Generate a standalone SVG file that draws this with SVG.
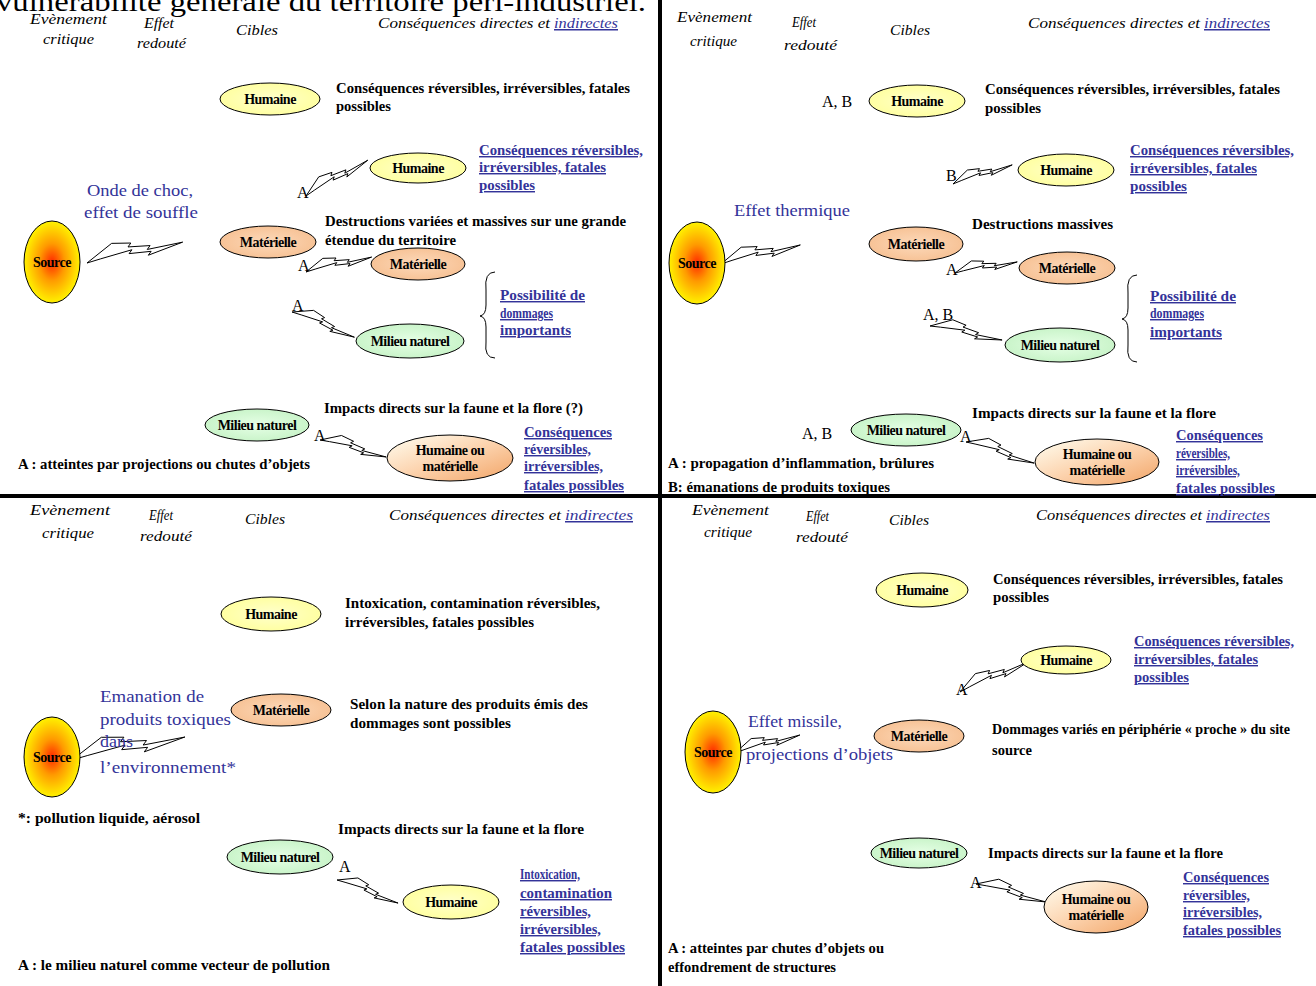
<svg xmlns="http://www.w3.org/2000/svg" xmlns:xlink="http://www.w3.org/1999/xlink" width="1316" height="986" viewBox="0 0 1316 986">
<style>
text{font-family:"Liberation Serif","Times New Roman",serif}
.t{font-size:28px;fill:#000}
.h{font-style:italic;font-size:15px;fill:#000}
.hl{font-style:italic;font-size:15px;fill:#333399;text-decoration:underline}
.b{font-weight:bold;font-size:14.5px;fill:#000}
.l{font-weight:bold;font-size:14.5px;fill:#333399;text-decoration:underline}
.e{font-size:16px;fill:#333399}
.a{font-size:16px;fill:#000}
.n{font-weight:bold;font-size:14px;letter-spacing:-0.5px;fill:#000;text-anchor:middle}
.el{stroke:#000;stroke-width:1}
.hum{fill:url(#gHum)}
.mat{fill:url(#gMat)}
.mil{fill:url(#gMil)}
.hm{fill:url(#gHM)}
.src{fill:url(#gSrc)}
.bolt{fill:#fff;stroke:#000;stroke-width:1}
.brace{fill:none;stroke:#000;stroke-width:1}
.sep{stroke:#000;stroke-width:4}
</style>
<defs>
<radialGradient id="gSrc" cx="0.5" cy="0.5" r="0.5">
<stop offset="0" stop-color="#FF2A00"/>
<stop offset="0.45" stop-color="#FF9A00"/>
<stop offset="1" stop-color="#FFF200"/>
</radialGradient>
<radialGradient id="gHum" cx="0.5" cy="0.5" r="0.6">
<stop offset="0" stop-color="#FFFFCC"/>
<stop offset="1" stop-color="#FFFF99"/>
</radialGradient>
<radialGradient id="gMat" cx="0.5" cy="0.5" r="0.6">
<stop offset="0" stop-color="#FCD9BA"/>
<stop offset="1" stop-color="#F6BE8F"/>
</radialGradient>
<radialGradient id="gMil" cx="0.5" cy="0.5" r="0.6">
<stop offset="0" stop-color="#E6FFE6"/>
<stop offset="1" stop-color="#C4F2C4"/>
</radialGradient>
<linearGradient id="gHM" x1="0" y1="0" x2="1" y2="1">
<stop offset="0" stop-color="#FFFFF2"/>
<stop offset="0.5" stop-color="#FCD3AE"/>
<stop offset="1" stop-color="#F2A466"/>
</linearGradient>
<path id="bolt" class="bolt" vector-effect="non-scaling-stroke" d="M0,0 L26,-20 L46,-20 L43,-16 L66,-17 L63,-13 L100,-20 L64,-7 L67,-11 L44,-9 L47,-13 L14,-4 Z"/>
</defs>

<rect width="1316" height="986" fill="#fff"/>

<text class="t" x="-4" y="11" textLength="650" lengthAdjust="spacingAndGlyphs">vulnérabilité générale du territoire péri-industriel.</text>

<g id="separators">
<line class="sep" x1="660" y1="0" x2="660" y2="986"/>
<line class="sep" x1="0" y1="496" x2="1316" y2="496"/>
</g>

<g id="connectors">
<use xlink:href="#bolt" transform="translate(87,263) rotate(-1) scale(0.96)"/>
<use xlink:href="#bolt" transform="translate(306,196) rotate(-18.8) scale(0.70)"/>
<use xlink:href="#bolt" transform="translate(306,272) rotate(-1.5) scale(0.66)"/>
<use xlink:href="#bolt" transform="translate(292,312) rotate(33.3) scale(0.66)"/>
<use xlink:href="#bolt" transform="translate(320,440) rotate(25.7) scale(0.67)"/>
<use xlink:href="#bolt" transform="translate(721,264) rotate(-2.2) scale(0.80)"/>
<use xlink:href="#bolt" transform="translate(953,184) rotate(-6.6) scale(0.61)"/>
<use xlink:href="#bolt" transform="translate(955,273) rotate(1.2) scale(0.62)"/>
<use xlink:href="#bolt" transform="translate(930,326) rotate(22.3) scale(0.72)"/>
<use xlink:href="#bolt" transform="translate(966,442) rotate(28.5) scale(0.70)"/>
<use xlink:href="#bolt" transform="translate(72,760) rotate(-0.2) scale(1.13)"/>
<use xlink:href="#bolt" transform="translate(337,880) rotate(32) scale(0.64)"/>
<use xlink:href="#bolt" transform="translate(960,692) rotate(-12.5) scale(0.73)"/>
<use xlink:href="#bolt" transform="translate(735,753) rotate(-4.2) scale(0.66)"/>
<use xlink:href="#bolt" transform="translate(976,884) rotate(25.7) scale(0.71)"/>
<path class="brace" d="M495,272 Q484,272 486,290 L486,305 Q486,315 480,316 Q486,317 486,327 L486,342 Q484,358 495,358"/>
<path class="brace" d="M1137,275 Q1126,275 1128,293 L1128,308 Q1128,318 1122,319 Q1128,320 1128,330 L1128,345 Q1126,362 1137,362"/>
</g>

<!-- ============ Q1 ============ -->
<g id="q1-headers">
<text class="h" x="30" y="24" textLength="77" lengthAdjust="spacingAndGlyphs">Evènement</text>
<text class="h" x="43" y="44" textLength="51" lengthAdjust="spacingAndGlyphs">critique</text>
<text class="h" x="144" y="28" textLength="30" lengthAdjust="spacingAndGlyphs">Effet</text>
<text class="h" x="137" y="48" textLength="49" lengthAdjust="spacingAndGlyphs">redouté</text>
<text class="h" x="236" y="35" textLength="42" lengthAdjust="spacingAndGlyphs">Cibles</text>
<text class="h" x="378" y="28" textLength="172" lengthAdjust="spacingAndGlyphs">Conséquences directes et</text>
<text class="hl" x="554" y="28" textLength="64" lengthAdjust="spacingAndGlyphs">indirectes</text>
</g>
<g id="q1-source"><ellipse class="el src" cx="52" cy="262" rx="28" ry="41"/><text class="n" x="52" y="267">Source</text></g>
<g id="q1-effet"><text class="e" x="87" y="196" textLength="106" lengthAdjust="spacingAndGlyphs">Onde de choc,</text><text class="e" x="84" y="218" textLength="114" lengthAdjust="spacingAndGlyphs">effet de souffle</text></g>
<g id="q1-humaine"><ellipse class="el hum" cx="270" cy="99" rx="50" ry="16"/><text class="n" x="270" y="104">Humaine</text></g>
<g id="q1-humaine-txt"><text class="b" x="336" y="93" textLength="294" lengthAdjust="spacingAndGlyphs">Conséquences réversibles, irréversibles, fatales</text><text class="b" x="336" y="111" textLength="55" lengthAdjust="spacingAndGlyphs">possibles</text></g>
<g id="q1-humaine2"><ellipse class="el hum" cx="418" cy="168" rx="48" ry="15"/><text class="n" x="418" y="173">Humaine</text></g>
<g id="q1-humaine2-txt"><text class="l" x="479" y="155" textLength="164" lengthAdjust="spacingAndGlyphs">Conséquences réversibles,</text><text class="l" x="479" y="172" textLength="127" lengthAdjust="spacingAndGlyphs">irréversibles, fatales</text><text class="l" x="479" y="190" textLength="56" lengthAdjust="spacingAndGlyphs">possibles</text></g>
<text class="a" x="297" y="198">A</text>
<g id="q1-materielle"><ellipse class="el mat" cx="268" cy="242" rx="48" ry="16"/><text class="n" x="268" y="247">Matérielle</text></g>
<g id="q1-materielle-txt"><text class="b" x="325" y="226" textLength="301" lengthAdjust="spacingAndGlyphs">Destructions variées et massives sur une grande</text><text class="b" x="325" y="245" textLength="131" lengthAdjust="spacingAndGlyphs">étendue du territoire</text></g>
<text class="a" x="298" y="271">A</text>
<g id="q1-materielle2"><ellipse class="el mat" cx="418" cy="264" rx="47" ry="16"/><text class="n" x="418" y="269">Matérielle</text></g>
<text class="a" x="292" y="311">A</text>
<g id="q1-milieu"><ellipse class="el mil" cx="410" cy="341" rx="54" ry="17"/><text class="n" x="410" y="346">Milieu naturel</text></g>
<g id="q1-brace-txt"><text class="l" x="500" y="300" textLength="85" lengthAdjust="spacingAndGlyphs">Possibilité de</text><text class="l" x="500" y="318" textLength="53" lengthAdjust="spacingAndGlyphs">dommages</text><text class="l" x="500" y="335" textLength="71" lengthAdjust="spacingAndGlyphs">importants</text></g>
<text class="b" x="324" y="413" textLength="259" lengthAdjust="spacingAndGlyphs">Impacts directs sur la faune et la flore (?)</text>
<g id="q1-milieu2"><ellipse class="el mil" cx="257" cy="425" rx="52" ry="16"/><text class="n" x="257" y="430">Milieu naturel</text></g>
<text class="a" x="314" y="441">A</text>
<g id="q1-hm"><ellipse class="el hm" cx="450" cy="458" rx="63" ry="23"/><text class="n" x="450" y="455">Humaine ou</text><text class="n" x="450" y="471">matérielle</text></g>
<g id="q1-hm-txt"><text class="l" x="524" y="437" textLength="88" lengthAdjust="spacingAndGlyphs">Conséquences</text><text class="l" x="524" y="454" textLength="67" lengthAdjust="spacingAndGlyphs">réversibles,</text><text class="l" x="524" y="471" textLength="79" lengthAdjust="spacingAndGlyphs">irréversibles,</text><text class="l" x="524" y="490" textLength="100" lengthAdjust="spacingAndGlyphs">fatales possibles</text></g>
<text class="b" x="18" y="469" textLength="292" lengthAdjust="spacingAndGlyphs">A : atteintes par projections ou chutes d’objets</text>

<!-- ============ Q2 ============ -->
<g id="q2-headers">
<text class="h" x="677" y="22" textLength="75" lengthAdjust="spacingAndGlyphs">Evènement</text>
<text class="h" x="690" y="46" textLength="47" lengthAdjust="spacingAndGlyphs">critique</text>
<text class="h" x="792" y="27" textLength="24" lengthAdjust="spacingAndGlyphs">Effet</text>
<text class="h" x="784" y="50" textLength="53" lengthAdjust="spacingAndGlyphs">redouté</text>
<text class="h" x="890" y="35" textLength="40" lengthAdjust="spacingAndGlyphs">Cibles</text>
<text class="h" x="1028" y="28" textLength="172" lengthAdjust="spacingAndGlyphs">Conséquences directes et</text>
<text class="hl" x="1204" y="28" textLength="66" lengthAdjust="spacingAndGlyphs">indirectes</text>
</g>
<text class="a" x="822" y="107">A, B</text>
<g id="q2-humaine"><ellipse class="el hum" cx="917" cy="101" rx="48" ry="16"/><text class="n" x="917" y="106">Humaine</text></g>
<g id="q2-humaine-txt"><text class="b" x="985" y="94" textLength="295" lengthAdjust="spacingAndGlyphs">Conséquences réversibles, irréversibles, fatales</text><text class="b" x="985" y="113" textLength="56" lengthAdjust="spacingAndGlyphs">possibles</text></g>
<text class="a" x="946" y="181">B</text>
<g id="q2-humaine2"><ellipse class="el hum" cx="1066" cy="170" rx="48" ry="16"/><text class="n" x="1066" y="175">Humaine</text></g>
<g id="q2-humaine2-txt"><text class="l" x="1130" y="155" textLength="164" lengthAdjust="spacingAndGlyphs">Conséquences réversibles,</text><text class="l" x="1130" y="173" textLength="127" lengthAdjust="spacingAndGlyphs">irréversibles, fatales</text><text class="l" x="1130" y="191" textLength="57" lengthAdjust="spacingAndGlyphs">possibles</text></g>
<text class="e" x="734" y="216" textLength="116" lengthAdjust="spacingAndGlyphs">Effet thermique</text>
<g id="q2-source"><ellipse class="el src" cx="697" cy="263" rx="28" ry="41"/><text class="n" x="697" y="268">Source</text></g>
<text class="b" x="972" y="229" textLength="141" lengthAdjust="spacingAndGlyphs">Destructions massives</text>
<g id="q2-materielle"><ellipse class="el mat" cx="916" cy="244" rx="47" ry="17"/><text class="n" x="916" y="249">Matérielle</text></g>
<text class="a" x="946" y="275">A</text>
<g id="q2-materielle2"><ellipse class="el mat" cx="1067" cy="268" rx="48" ry="16"/><text class="n" x="1067" y="273">Matérielle</text></g>
<text class="a" x="923" y="320">A, B</text>
<g id="q2-milieu"><ellipse class="el mil" cx="1060" cy="345" rx="55" ry="17"/><text class="n" x="1060" y="350">Milieu naturel</text></g>
<g id="q2-brace-txt"><text class="l" x="1150" y="301" textLength="86" lengthAdjust="spacingAndGlyphs">Possibilité de</text><text class="l" x="1150" y="318" textLength="54" lengthAdjust="spacingAndGlyphs">dommages</text><text class="l" x="1150" y="337" textLength="72" lengthAdjust="spacingAndGlyphs">importants</text></g>
<text class="b" x="972" y="418" textLength="244" lengthAdjust="spacingAndGlyphs">Impacts directs sur la faune et la flore</text>
<text class="a" x="802" y="439">A, B</text>
<g id="q2-milieu2"><ellipse class="el mil" cx="906" cy="430" rx="55" ry="16"/><text class="n" x="906" y="435">Milieu naturel</text></g>
<text class="a" x="960" y="442">A</text>
<g id="q2-hm"><ellipse class="el hm" cx="1097" cy="462" rx="62" ry="23"/><text class="n" x="1097" y="459">Humaine ou</text><text class="n" x="1097" y="475">matérielle</text></g>
<g id="q2-hm-txt"><text class="l" x="1176" y="440" textLength="87" lengthAdjust="spacingAndGlyphs">Conséquences</text><text class="l" x="1176" y="458" textLength="54" lengthAdjust="spacingAndGlyphs">réversibles,</text><text class="l" x="1176" y="475" textLength="64" lengthAdjust="spacingAndGlyphs">irréversibles,</text><text class="l" x="1176" y="493" textLength="99" lengthAdjust="spacingAndGlyphs">fatales possibles</text></g>
<text class="b" x="668" y="468" textLength="266" lengthAdjust="spacingAndGlyphs">A : propagation d’inflammation, brûlures</text>
<text class="b" x="668" y="492" textLength="222" lengthAdjust="spacingAndGlyphs">B: émanations de produits toxiques</text>

<!-- ============ Q3 ============ -->
<g id="q3-headers">
<text class="h" x="30" y="515" textLength="80" lengthAdjust="spacingAndGlyphs">Evènement</text>
<text class="h" x="42" y="538" textLength="52" lengthAdjust="spacingAndGlyphs">critique</text>
<text class="h" x="149" y="520" textLength="24" lengthAdjust="spacingAndGlyphs">Effet</text>
<text class="h" x="140" y="541" textLength="52" lengthAdjust="spacingAndGlyphs">redouté</text>
<text class="h" x="245" y="524" textLength="40" lengthAdjust="spacingAndGlyphs">Cibles</text>
<text class="h" x="389" y="520" textLength="172" lengthAdjust="spacingAndGlyphs">Conséquences directes et</text>
<text class="hl" x="565" y="520" textLength="68" lengthAdjust="spacingAndGlyphs">indirectes</text>
</g>
<g id="q3-humaine"><ellipse class="el hum" cx="271" cy="614" rx="50" ry="17"/><text class="n" x="271" y="619">Humaine</text></g>
<g id="q3-humaine-txt"><text class="b" x="345" y="608" textLength="255" lengthAdjust="spacingAndGlyphs">Intoxication, contamination réversibles,</text><text class="b" x="345" y="627" textLength="189" lengthAdjust="spacingAndGlyphs">irréversibles, fatales possibles</text></g>
<g id="q3-effet"><text class="e" x="100" y="702" textLength="104" lengthAdjust="spacingAndGlyphs">Emanation de</text><text class="e" x="100" y="725" textLength="131" lengthAdjust="spacingAndGlyphs">produits toxiques</text><text class="e" x="100" y="747" textLength="33" lengthAdjust="spacingAndGlyphs">dans</text><text class="e" x="100" y="773" textLength="136" lengthAdjust="spacingAndGlyphs">l’environnement*</text></g>
<g id="q3-materielle"><ellipse class="el mat" cx="281" cy="710" rx="50" ry="16"/><text class="n" x="281" y="715">Matérielle</text></g>
<g id="q3-materielle-txt"><text class="b" x="350" y="709" textLength="238" lengthAdjust="spacingAndGlyphs">Selon la nature des produits émis des</text><text class="b" x="350" y="728" textLength="161" lengthAdjust="spacingAndGlyphs">dommages sont possibles</text></g>
<g id="q3-source"><ellipse class="el src" cx="52" cy="757" rx="28" ry="40"/><text class="n" x="52" y="762">Source</text></g>
<text class="b" x="18" y="823" textLength="182" lengthAdjust="spacingAndGlyphs">*: pollution liquide, aérosol</text>
<text class="b" x="338" y="834" textLength="246" lengthAdjust="spacingAndGlyphs">Impacts directs sur la faune et la flore</text>
<g id="q3-milieu"><ellipse class="el mil" cx="280" cy="857" rx="53" ry="17"/><text class="n" x="280" y="862">Milieu naturel</text></g>
<text class="a" x="339" y="872">A</text>
<g id="q3-humaine2"><ellipse class="el hum" cx="451" cy="902" rx="48" ry="17"/><text class="n" x="451" y="907">Humaine</text></g>
<g id="q3-humaine2-txt"><text class="l" x="520" y="879" textLength="60" lengthAdjust="spacingAndGlyphs">Intoxication,</text><text class="l" x="520" y="898" textLength="92" lengthAdjust="spacingAndGlyphs">contamination</text><text class="l" x="520" y="916" textLength="71" lengthAdjust="spacingAndGlyphs">réversibles,</text><text class="l" x="520" y="934" textLength="81" lengthAdjust="spacingAndGlyphs">irréversibles,</text><text class="l" x="520" y="952" textLength="105" lengthAdjust="spacingAndGlyphs">fatales possibles</text></g>
<text class="b" x="18" y="970" textLength="312" lengthAdjust="spacingAndGlyphs">A : le milieu naturel comme vecteur de pollution</text>

<!-- ============ Q4 ============ -->
<g id="q4-headers">
<text class="h" x="692" y="515" textLength="77" lengthAdjust="spacingAndGlyphs">Evènement</text>
<text class="h" x="704" y="537" textLength="48" lengthAdjust="spacingAndGlyphs">critique</text>
<text class="h" x="806" y="521" textLength="23" lengthAdjust="spacingAndGlyphs">Effet</text>
<text class="h" x="796" y="542" textLength="52" lengthAdjust="spacingAndGlyphs">redouté</text>
<text class="h" x="889" y="525" textLength="40" lengthAdjust="spacingAndGlyphs">Cibles</text>
<text class="h" x="1036" y="520" textLength="166" lengthAdjust="spacingAndGlyphs">Conséquences directes et</text>
<text class="hl" x="1206" y="520" textLength="64" lengthAdjust="spacingAndGlyphs">indirectes</text>
</g>
<g id="q4-humaine"><ellipse class="el hum" cx="922" cy="590" rx="46" ry="17"/><text class="n" x="922" y="595">Humaine</text></g>
<g id="q4-humaine-txt"><text class="b" x="993" y="584" textLength="290" lengthAdjust="spacingAndGlyphs">Conséquences réversibles, irréversibles, fatales</text><text class="b" x="993" y="602" textLength="56" lengthAdjust="spacingAndGlyphs">possibles</text></g>
<g id="q4-humaine2"><ellipse class="el hum" cx="1066" cy="660" rx="45" ry="14"/><text class="n" x="1066" y="665">Humaine</text></g>
<g id="q4-humaine2-txt"><text class="l" x="1134" y="646" textLength="160" lengthAdjust="spacingAndGlyphs">Conséquences réversibles,</text><text class="l" x="1134" y="664" textLength="124" lengthAdjust="spacingAndGlyphs">irréversibles, fatales</text><text class="l" x="1134" y="682" textLength="55" lengthAdjust="spacingAndGlyphs">possibles</text></g>
<text class="a" x="956" y="695">A</text>
<g id="q4-effet"><text class="e" x="748" y="727" textLength="94" lengthAdjust="spacingAndGlyphs">Effet missile,</text><text class="e" x="746" y="760" textLength="147" lengthAdjust="spacingAndGlyphs">projections d’objets</text></g>
<g id="q4-source"><ellipse class="el src" cx="713" cy="752" rx="28" ry="41"/><text class="n" x="713" y="757">Source</text></g>
<g id="q4-materielle"><ellipse class="el mat" cx="919" cy="736" rx="45" ry="16"/><text class="n" x="919" y="741">Matérielle</text></g>
<g id="q4-materielle-txt"><text class="b" x="992" y="734" textLength="298" lengthAdjust="spacingAndGlyphs">Dommages variés en périphérie « proche » du site</text><text class="b" x="992" y="755" textLength="40" lengthAdjust="spacingAndGlyphs">source</text></g>
<g id="q4-milieu"><ellipse class="el mil" cx="919" cy="853" rx="48" ry="15"/><text class="n" x="919" y="858">Milieu naturel</text></g>
<text class="b" x="988" y="858" textLength="235" lengthAdjust="spacingAndGlyphs">Impacts directs sur la faune et la flore</text>
<text class="a" x="970" y="888">A</text>
<g id="q4-hm"><ellipse class="el hm" cx="1096" cy="907" rx="52" ry="26"/><text class="n" x="1096" y="904">Humaine ou</text><text class="n" x="1096" y="920">matérielle</text></g>
<g id="q4-hm-txt"><text class="l" x="1183" y="882" textLength="86" lengthAdjust="spacingAndGlyphs">Conséquences</text><text class="l" x="1183" y="900" textLength="67" lengthAdjust="spacingAndGlyphs">réversibles,</text><text class="l" x="1183" y="917" textLength="79" lengthAdjust="spacingAndGlyphs">irréversibles,</text><text class="l" x="1183" y="935" textLength="98" lengthAdjust="spacingAndGlyphs">fatales possibles</text></g>
<text class="b" x="668" y="953" textLength="216" lengthAdjust="spacingAndGlyphs">A : atteintes par chutes d’objets ou</text>
<text class="b" x="668" y="972" textLength="168" lengthAdjust="spacingAndGlyphs">effondrement de structures</text>
</svg>
